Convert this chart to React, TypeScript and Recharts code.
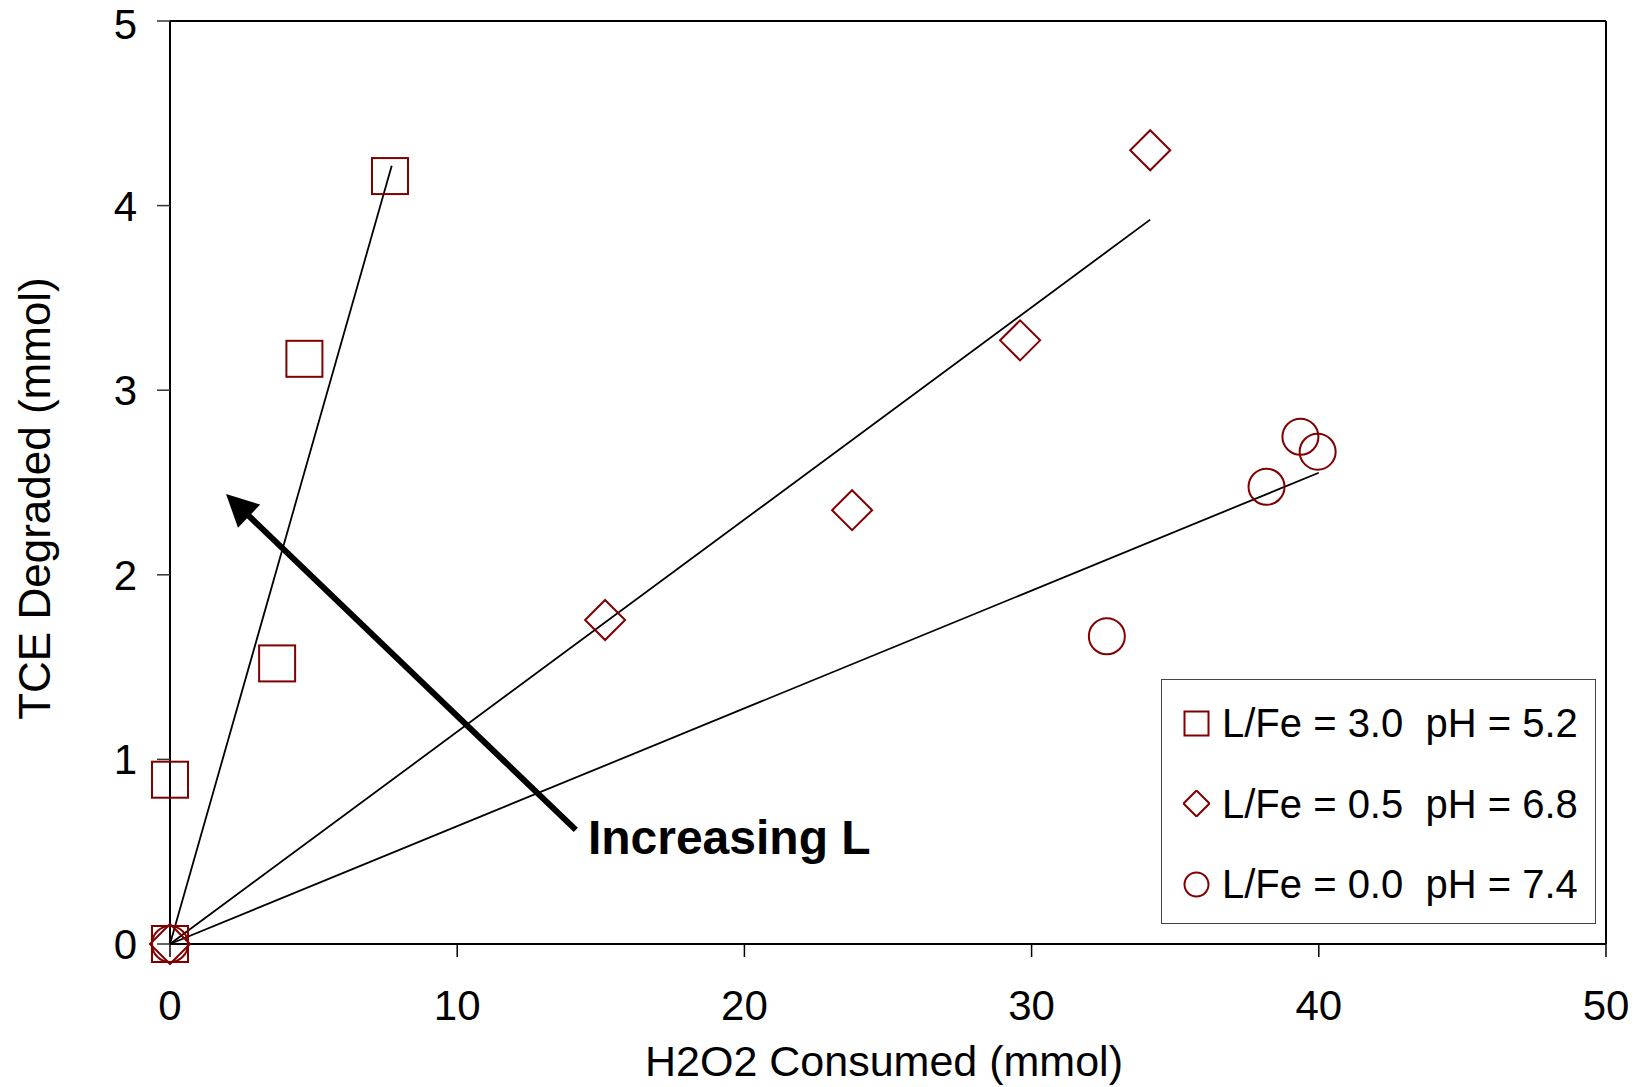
import {
  ScatterChart,
  Scatter,
  XAxis,
  YAxis,
  ReferenceLine,
  ReferenceDot,
  Legend,
  Label,
} from "recharts";

const squareX = [0, 0, 3.73, 4.68, 7.66];
const squareY = [0, 0.89, 1.52, 3.17, 4.16];
const diamondX = [0, 15.15, 23.75, 29.6, 34.13];
const diamondY = [0, 1.755, 2.35, 3.27, 4.3];
const circleX = [0, 32.62, 38.18, 39.36, 39.96];
const circleY = [0, 1.667, 2.477, 2.748, 2.667];

// linear fits through origin: end points
const fitEndX = [7.72, 34.13, 40.0];
const fitEndY = [4.216, 3.924, 2.553];

// arrow tail -> tip
const arrowX = [14.13, 1.95];
const arrowY = [0.618, 2.438];
const noteX = 14.55;
const noteY = 0.488;

const xTicks = [0, 10, 20, 30, 40, 50];
const yTicks = [0, 1, 2, 3, 4, 5];

const seriesNames = [
  "L/Fe = 3.0  pH = 5.2",
  "L/Fe = 0.5  pH = 6.8",
  "L/Fe = 0.0  pH = 7.4",
];

const RED = "#800000";
const FONT = '"Liberation Sans", Arial, sans-serif';

const zip = (xs: number[], ys: number[]) => xs.map((x, i) => ({ x, y: ys[i] }));

const squareData = zip(squareX, squareY);
const diamondData = zip(diamondX, diamondY);
const circleData = zip(circleX, circleY);

const SquareShape = (p: any) => (
  <rect x={p.cx - 18} y={p.cy - 18} width={36} height={36} fill="none" stroke={RED} strokeWidth={2} />
);
const DiamondShape = (p: any) => (
  <polygon
    points={`${p.cx},${p.cy - 20} ${p.cx + 20},${p.cy} ${p.cx},${p.cy + 20} ${p.cx - 20},${p.cy}`}
    fill="none"
    stroke={RED}
    strokeWidth={2}
  />
);
const CircleShape = (p: any) => (
  <circle cx={p.cx} cy={p.cy} r={18} fill="none" stroke={RED} strokeWidth={2} />
);

const ArrowShape = (p: any) => {
  const { x1, y1, x2, y2 } = p;
  const dx = x2 - x1;
  const dy = y2 - y1;
  const len = Math.hypot(dx, dy) || 1;
  const ux = dx / len;
  const uy = dy / len;
  const headLen = 32;
  const half = 16;
  const bx = x2 - ux * headLen;
  const by = y2 - uy * headLen;
  return (
    <g>
      <line x1={x1} y1={y1} x2={bx + ux * 4} y2={by + uy * 4} stroke="#000" strokeWidth={6} />
      <polygon
        points={`${x2},${y2} ${bx - uy * half},${by + ux * half} ${bx + uy * half},${by - ux * half}`}
        fill="#000"
      />
    </g>
  );
};

const NoteShape = (p: any) => (
  <text x={p.cx} y={p.cy} fontSize={48} fontWeight="bold" fill="#000" fontFamily={FONT}>
    Increasing L
  </text>
);

const YTitle = (p: any) => {
  const vb = p.viewBox;
  const x = vb.x + 50;
  const y = vb.y + vb.height / 2 + 16;
  return (
    <text
      x={x}
      y={y}
      transform={`rotate(-90, ${x}, ${y})`}
      textAnchor="middle"
      fontSize={44}
      fill="#000"
      fontFamily={FONT}
    >
      TCE Degraded (mmol)
    </text>
  );
};

const legendIcons = [
  <rect key="s" x={1.5} y={1.5} width={24} height={24} fill="none" stroke={RED} strokeWidth={2} />,
  <polygon key="d" points="13.5,0.5 26.5,13.5 13.5,26.5 0.5,13.5" fill="none" stroke={RED} strokeWidth={2} />,
  <circle key="c" cx={13.5} cy={13.5} r={12} fill="none" stroke={RED} strokeWidth={2} />,
];

const LegendBox = () => (
  <div
    style={{
      boxSizing: "border-box",
      width: 435,
      height: 245,
      border: "1.5px solid #444",
      background: "#fff",
      paddingTop: 3,
      fontFamily: FONT,
    }}
  >
    {seriesNames.map((name, i) => (
      <div key={name} style={{ display: "flex", alignItems: "center", height: 80.5 }}>
        <svg width={27} height={27} style={{ marginLeft: 21, marginRight: 12 }}>
          {legendIcons[i]}
        </svg>
        <span style={{ fontSize: 40, whiteSpace: "pre", color: "#000", lineHeight: 1 }}>{name}</span>
      </div>
    ))}
  </div>
);

export default function App() {
  const tick = { fontSize: 42, fill: "#000", fontFamily: FONT };
  return (
    <div style={{ position: "absolute", left: 0, top: 0, background: "#fff", fontFamily: FONT }}>
      <ScatterChart width={1640} height={1087} margin={{ top: 21, right: 34, bottom: 0, left: 0 }}>
        <XAxis
          type="number"
          dataKey="x"
          domain={[0, 50]}
          ticks={xTicks}
          height={143}
          tick={tick}
          tickSize={13}
          tickMargin={33}
          axisLine={{ stroke: "#000", strokeWidth: 2 }}
          tickLine={{ stroke: "#000", strokeWidth: 1.5 }}
        >
          <Label value="H2O2 Consumed (mmol)" position="insideBottom" offset={11} dx={-4} fontSize={43} fill="#000" />
        </XAxis>
        <YAxis
          type="number"
          dataKey="y"
          domain={[0, 5]}
          ticks={yTicks}
          width={170}
          tick={tick}
          tickSize={13}
          tickMargin={20}
          axisLine={{ stroke: "#000", strokeWidth: 2 }}
          tickLine={{ stroke: "#333", strokeWidth: 1.5 }}
        >
          <Label content={YTitle} />
        </YAxis>
        <ReferenceLine y={5} stroke="#000" strokeWidth={2} />
        <ReferenceLine x={50} stroke="#000" strokeWidth={2} />
        {fitEndX.map((ex, i) => (
          <ReferenceLine
            key={`fit-${i}`}
            segment={[
              { x: 0, y: 0 },
              { x: ex, y: fitEndY[i] },
            ]}
            stroke="#000"
            strokeWidth={1.8}
          />
        ))}
        <ReferenceLine
          segment={[
            { x: arrowX[0], y: arrowY[0] },
            { x: arrowX[1], y: arrowY[1] },
          ]}
          shape={ArrowShape}
        />
        <ReferenceDot x={noteX} y={noteY} r={0} shape={NoteShape} />
        <Scatter name={seriesNames[0]} data={squareData} shape={SquareShape} isAnimationActive={false} />
        <Scatter name={seriesNames[1]} data={diamondData} shape={DiamondShape} isAnimationActive={false} />
        <Scatter name={seriesNames[2]} data={circleData} shape={CircleShape} isAnimationActive={false} />
        <Legend
          layout="vertical"
          align="center"
          verticalAlign="middle"
          content={LegendBox}
          wrapperStyle={{ left: 1161, top: 679, width: 435, height: 245 }}
        />
      </ScatterChart>
    </div>
  );
}
